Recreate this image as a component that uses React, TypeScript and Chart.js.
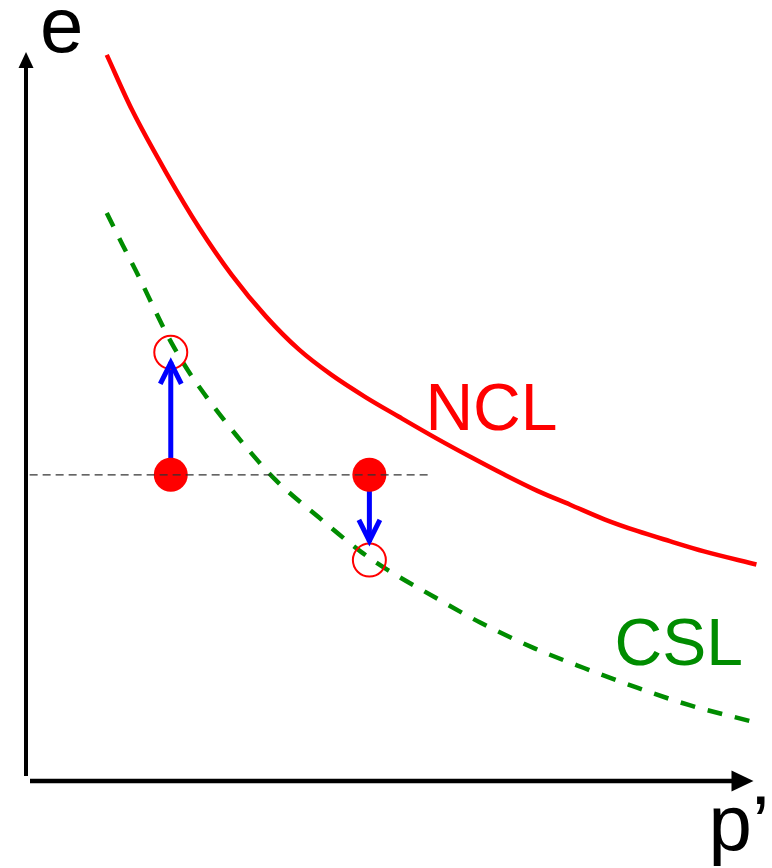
import React, { useEffect, useRef } from "react";
import { Chart, registerables } from "chart.js";

Chart.register(...registerables);

// Normal compression line (void ratio e against mean effective stress p')
const nclP = [11.1, 14.6, 19.3, 23.8, 28.3, 33.0, 37.5, 42.0, 46.6, 51.2, 56.6, 61.2, 65.8, 70.3, 74.8, 79.5, 84.0, 88.5, 93.2, 100.4];
const nclE = [99.6, 92.0, 83.4, 75.9, 69.4, 63.7, 59.2, 55.7, 52.7, 50.0, 46.9, 44.4, 42.0, 39.8, 37.9, 35.9, 34.3, 32.9, 31.5, 29.7];

// Critical state line
const cslP = [11.1, 13.3, 15.6, 17.9, 20.0, 22.4, 24.8, 27.0, 30.6, 34.3, 40.2, 46.1, 49.8, 56.2, 62.5, 69.9, 76.7, 84.0, 91.2, 100.0];
const cslE = [77.9, 73.5, 69.0, 64.2, 60.1, 56.1, 52.7, 49.8, 45.4, 41.3, 36.2, 31.4, 28.9, 25.2, 21.7, 18.2, 15.5, 12.8, 10.4, 8.1];

// Initial states (same void ratio) and their end states on the CSL
const startP = [19.9, 47.2];
const startE = [42.0, 42.0];
const endP = [19.9, 47.2];
const endE = [58.8, 30.3];
const arrowTipE = [57.5, 32.8];

// Constant void ratio guide
const guideP = [0.5, 55.9];
const guideE = [42.0, 42.0];

// Text labels
const lineLabels = ["NCL", "CSL"];
const lineLabelP = [54.9, 80.9];
const lineLabelE = [48.15, 15.9];
const axisLabels = ["e", "p\u2019"];

const RED = "#ff0000";
const GREEN = "rgb(0,140,0)";
const BLUE = "#0000ff";
const FONT = '"Liberation Sans", Arial, sans-serif';

const zip = (xs: number[], ys: number[]) => xs.map((x, i) => ({ x, y: ys[i] }));

const decorations = {
  id: "decorations",
  beforeDatasetsDraw(chart: any) {
    const { ctx, chartArea } = chart;
    const { left, right, top, bottom } = chartArea;
    ctx.save();
    ctx.fillStyle = "#000";
    ctx.strokeStyle = "#000";
    ctx.lineCap = "butt";
    // vertical axis with arrow
    ctx.lineWidth = 4;
    ctx.beginPath();
    ctx.moveTo(left, bottom - 5);
    ctx.lineTo(left, top + 14);
    ctx.stroke();
    ctx.beginPath();
    ctx.moveTo(left, top);
    ctx.lineTo(left + 7.5, top + 16);
    ctx.lineTo(left - 7.5, top + 16);
    ctx.closePath();
    ctx.fill();
    // horizontal axis with arrow
    ctx.lineWidth = 4.5;
    ctx.beginPath();
    ctx.moveTo(left + 4, bottom);
    ctx.lineTo(right - 20, bottom);
    ctx.stroke();
    ctx.beginPath();
    ctx.moveTo(right, bottom);
    ctx.lineTo(right - 22, bottom - 10.5);
    ctx.lineTo(right - 22, bottom + 10.5);
    ctx.closePath();
    ctx.fill();
    // axis titles
    ctx.font = `78px ${FONT}`;
    ctx.textBaseline = "alphabetic";
    ctx.textAlign = "left";
    ctx.fillText(axisLabels[0], left + 14, top);
    ctx.fillText(axisLabels[1], right - 45, bottom + 69);
    ctx.restore();
  },
  afterDatasetsDraw(chart: any) {
    const { ctx } = chart;
    const xs = chart.scales.x;
    const ys = chart.scales.y;
    ctx.save();
    // arrow heads on the stress path arrows
    chart.data.datasets.forEach((ds: any, i: number) => {
      if (!ds.isArrow) return;
      const pts = chart.getDatasetMeta(i).data;
      const a = pts[0];
      const b = pts[1];
      const dir = b.y < a.y ? 1 : -1;
      ctx.strokeStyle = BLUE;
      ctx.lineWidth = 5;
      ctx.lineJoin = "miter";
      ctx.lineCap = "butt";
      ctx.beginPath();
      ctx.moveTo(b.x - 10.5, b.y + dir * 22);
      ctx.lineTo(b.x, b.y + dir * 1);
      ctx.lineTo(b.x + 10.5, b.y + dir * 22);
      ctx.stroke();
    });
    // line labels
    ctx.font = `66px ${FONT}`;
    ctx.textBaseline = "alphabetic";
    ctx.textAlign = "left";
    ctx.fillStyle = RED;
    ctx.fillText(lineLabels[0], xs.getPixelForValue(lineLabelP[0]), ys.getPixelForValue(lineLabelE[0]));
    ctx.fillStyle = GREEN;
    ctx.fillText(lineLabels[1], xs.getPixelForValue(lineLabelP[1]), ys.getPixelForValue(lineLabelE[1]));
    ctx.restore();
  },
};

export default function App() {
  const ref = useRef<HTMLCanvasElement>(null);

  useEffect(() => {
    if (!ref.current) return;
    const chart = new Chart(ref.current, {
      type: "scatter",
      data: {
        datasets: [
          {
            label: "guide",
            data: zip(guideP, guideE),
            showLine: true,
            borderColor: "#333",
            borderWidth: 1.2,
            borderDash: [8, 5],
            pointRadius: 0,
            clip: false,
          } as any,
          {
            label: "initial",
            data: zip(startP, startE),
            showLine: false,
            pointRadius: 17,
            pointBackgroundColor: RED,
            pointBorderWidth: 0,
            clip: false,
          },
          {
            label: "final",
            data: zip(endP, endE),
            showLine: false,
            pointRadius: 16.5,
            pointBackgroundColor: "rgba(0,0,0,0)",
            pointBorderColor: RED,
            pointBorderWidth: 2,
            clip: false,
          },
          {
            label: "path1",
            isArrow: true,
            data: [
              { x: startP[0], y: startE[0] },
              { x: startP[0], y: arrowTipE[0] },
            ],
            showLine: true,
            borderColor: BLUE,
            borderWidth: 5,
            pointRadius: 0,
            clip: false,
          } as any,
          {
            label: "path2",
            isArrow: true,
            data: [
              { x: startP[1], y: startE[1] },
              { x: startP[1], y: arrowTipE[1] },
            ],
            showLine: true,
            borderColor: BLUE,
            borderWidth: 5,
            pointRadius: 0,
            clip: false,
          } as any,
          {
            label: "CSL",
            data: zip(cslP, cslE),
            showLine: true,
            borderColor: GREEN,
            borderWidth: 4.5,
            borderDash: [15, 13],
            borderCapStyle: "butt",
            pointRadius: 0,
            cubicInterpolationMode: "monotone",
            clip: false,
          },
          {
            label: "NCL",
            data: zip(nclP, nclE),
            showLine: true,
            borderColor: RED,
            borderWidth: 4.5,
            pointRadius: 0,
            cubicInterpolationMode: "monotone",
            clip: false,
          },
        ],
      },
      options: {
        responsive: false,
        animation: false,
        devicePixelRatio: 1,
        events: [],
        layout: { padding: { left: 26, right: 15, top: 52, bottom: 87 } },
        plugins: {
          legend: { display: false },
          tooltip: { enabled: false },
        },
        scales: {
          x: { type: "linear", min: 0, max: 100, display: false },
          y: { type: "linear", min: 0, max: 100, display: false },
        },
      },
      plugins: [decorations],
    });
    return () => chart.destroy();
  }, []);

  return (
    <div style={{ position: "absolute", left: 0, top: 0, width: 772, height: 868, background: "#fff" }}>
      <canvas ref={ref} width={772} height={868} />
    </div>
  );
}
